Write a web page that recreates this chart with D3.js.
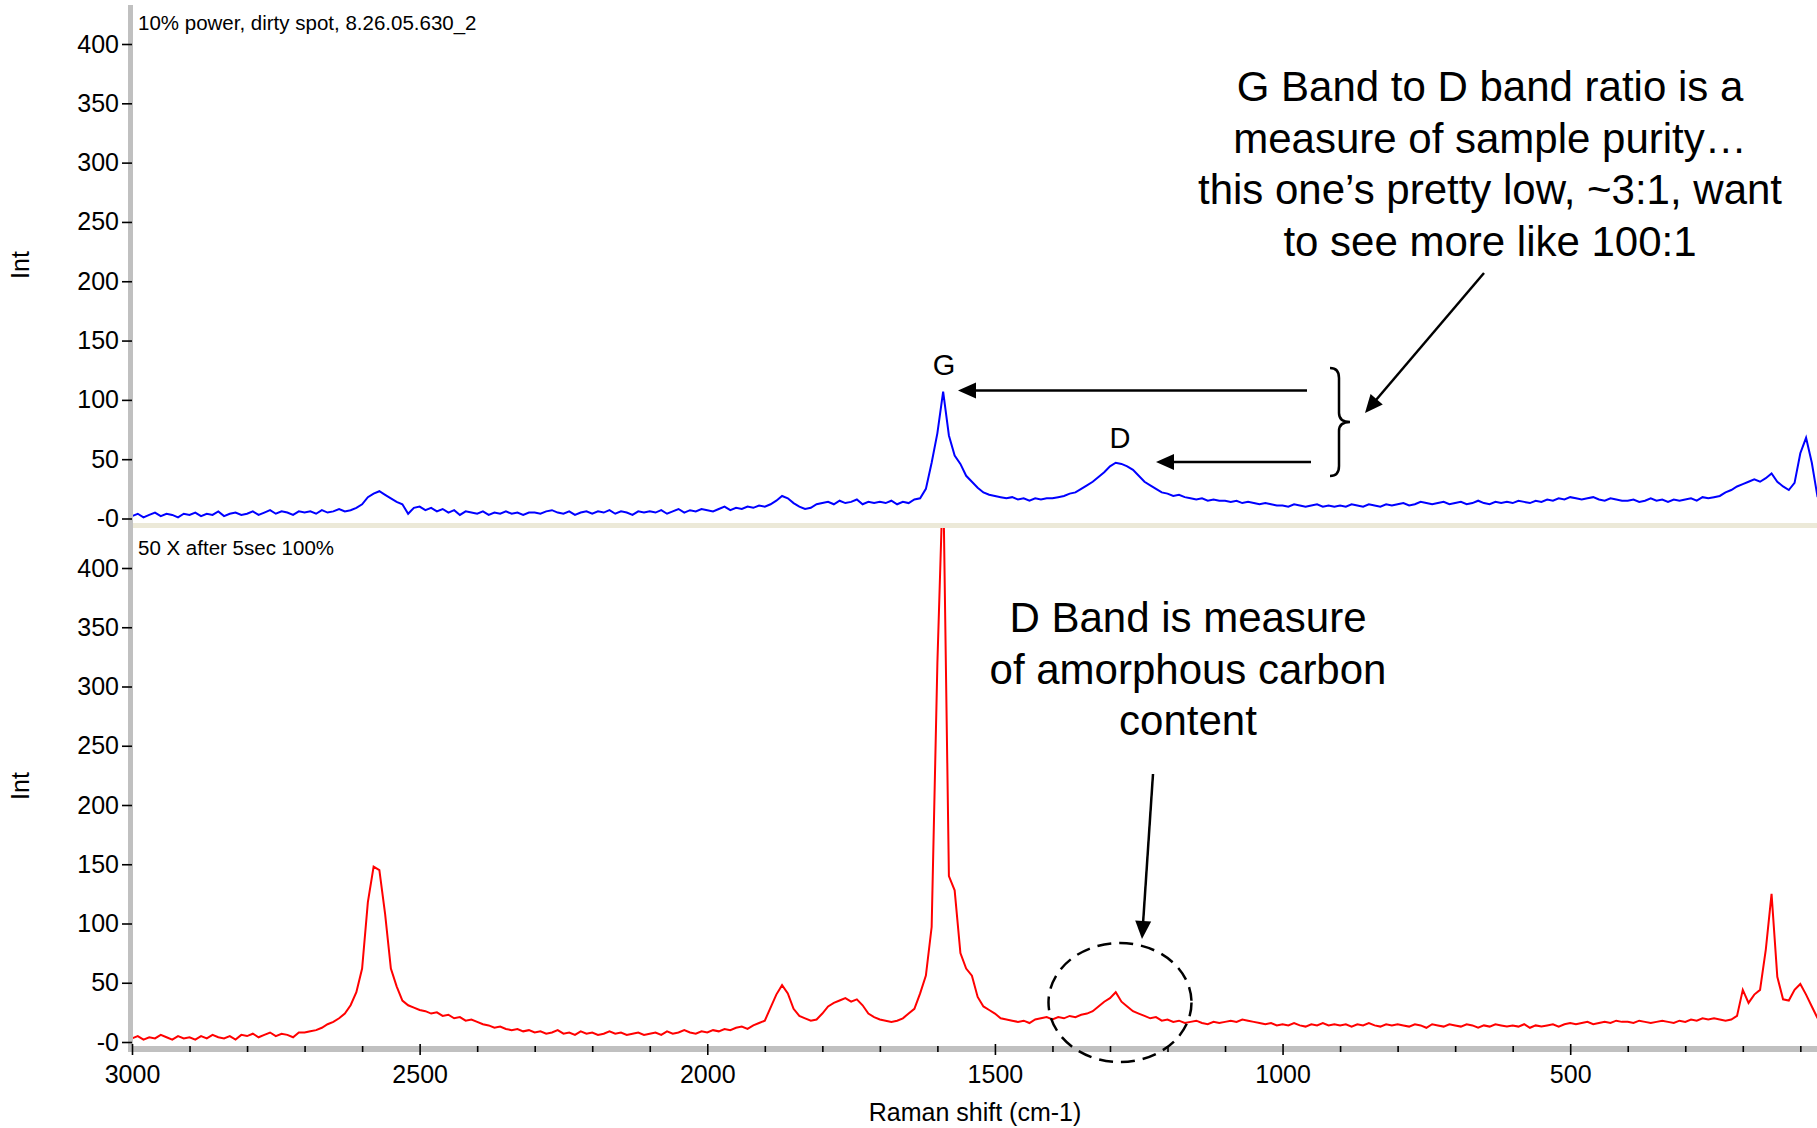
<!DOCTYPE html>
<html><head><meta charset="utf-8">
<script src="https://cdn.jsdelivr.net/npm/d3@7"></script>
<style>
body{margin:0;background:#fff}
svg{display:block}
text{font-family:"Liberation Sans",Arial,sans-serif;fill:#000}
</style>
</head><body>
<svg id="chart" width="1817" height="1128"></svg>
<script>
// Raman shift grid (cm-1), 3000 down to 70 every 10
const shift = d3.range(3000, 69, -10);

// Top spectrum: "10% power, dirty spot"
const topInt = [
  2,4,1,3,5,2,4,3,1,4,
  3,5,2,4,3,6,2,4,5,3,
  4,6,3,5,7,4,6,5,3,6,
  5,6,4,7,5,6,8,6,7,9,
  12,18,21,23,20,17,14,12,4,9,
  10,7,9,6,8,5,7,3,6,5,
  4,6,3,5,4,6,4,5,3,5,
  5,4,6,7,5,4,6,3,5,6,
  4,6,5,7,4,6,5,3,6,5,
  6,5,7,4,6,8,5,7,6,8,
  7,6,8,10,7,9,8,10,9,11,
  10,12,15,19,17,13,10,8,9,12,
  13,14,12,15,13,14,16,12,14,13,
  14,13,15,12,14,13,16,17,25,47,
  72,107,70,53,46,36,31,26,22,20,
  19,18,17,18,16,17,15,17,16,17,
  17,18,19,21,22,25,28,31,35,39,
  44,47,46,44,41,36,31,28,25,22,
  21,19,20,18,17,16,17,15,16,15,
  15,14,15,13,14,13,12,13,12,11,
  11,10,12,11,10,11,12,10,11,10,
  11,10,12,11,10,12,11,10,12,11,
  12,13,11,12,14,13,12,13,14,12,
  13,14,12,13,15,13,12,14,13,14,
  13,15,14,13,15,14,16,15,17,16,
  18,17,16,17,18,16,15,17,16,15,
  15,16,14,15,17,15,16,14,16,15,
  16,17,15,18,17,18,19,22,24,27,
  29,31,33,31,34,38,31,27,24,30,
  55,68,47,18
];

// Bottom spectrum: "50 X after 5sec 100%"
const botInt = [
  3,5,2,4,3,6,4,2,5,3,
  4,2,5,3,6,4,3,5,2,6,
  5,7,4,6,8,5,7,6,4,8,
  8,9,10,12,15,17,20,24,31,42,
  62,118,148,145,108,62,47,35,31,29,
  27,26,24,25,22,23,20,21,18,19,
  17,15,14,12,13,11,10,11,9,10,
  8,9,7,8,10,7,8,6,9,7,
  8,6,7,9,7,8,6,7,8,6,
  7,8,6,9,7,8,10,8,7,9,
  8,10,9,11,10,12,13,11,14,16,
  18,29,40,48,41,28,22,20,18,19,
  24,30,33,35,37,34,36,31,24,21,
  19,18,17,18,20,24,28,41,56,97,
  320,480,140,128,75,62,56,38,30,27,
  24,20,19,18,17,18,16,19,20,21,
  19,21,20,22,21,23,24,26,30,34,
  37,42,34,30,26,24,22,20,21,18,
  19,17,18,16,17,18,16,15,17,16,
  17,18,17,19,18,17,16,15,16,14,
  15,14,16,14,13,15,14,16,14,15,
  14,15,13,15,14,16,14,13,15,14,
  15,14,13,15,14,12,15,14,13,15,
  14,13,15,14,12,14,13,15,14,13,
  14,13,15,12,14,13,14,15,13,15,
  16,15,16,17,15,16,17,16,18,17,
  17,16,18,17,16,17,18,17,16,18,
  17,19,18,20,19,20,19,18,19,22,
  44,33,40,44,78,125,55,36,35,44,
  49,40,30,20
];

const yTicks = [0, 50, 100, 150, 200, 250, 300, 350, 400];
const yTickLabels = ["-0", "50", "100", "150", "200", "250", "300", "350", "400"];
const xMajorTicks = [3000, 2500, 2000, 1500, 1000, 500];
const xTickLabels = ["3000", "2500", "2000", "1500", "1000", "500"];
const xMinorTicks = [2900,2800,2700,2600,2400,2300,2200,2100,1900,1800,1700,1600,1400,1300,1200,1100,900,800,700,600,400,300,200,100];
const panelTitles = ["10% power, dirty spot, 8.26.05.630_2", "50 X after 5sec 100%"];
const yTitle = "Int";
const xTitle = "Raman shift (cm-1)";
const noteTop = ["G Band to D band ratio is a", "measure of sample purity\u2026", "this one\u2019s pretty low, ~3:1, want", "to see more like 100:1"];
const noteBottom = ["D Band is measure", "of amorphous carbon", "content"];
const peakLabels = ["G", "D"];

const svg = d3.select("#chart");
const FONT = "Liberation Sans, Arial, sans-serif";

const x = d3.scaleLinear().domain([3000, 71]).range([132, 1817]);
const yTop = d3.scaleLinear().domain([0, 400]).range([518.5, 44]);
const yBot = d3.scaleLinear().domain([0, 400]).range([1042, 568]);

const defs = svg.append("defs");
defs.append("clipPath").attr("id", "clipTop").append("rect")
  .attr("x", 133).attr("y", 5).attr("width", 1684).attr("height", 518);
defs.append("clipPath").attr("id", "clipBot").append("rect")
  .attr("x", 133).attr("y", 528).attr("width", 1684).attr("height", 518);

// frame bars
svg.append("rect").attr("x", 128).attr("y", 5).attr("width", 5).attr("height", 1047).attr("fill", "#c0c0c0");
svg.append("rect").attr("x", 128).attr("y", 1046).attr("width", 1689).attr("height", 6).attr("fill", "#c0c0c0");
svg.append("rect").attr("x", 133).attr("y", 523).attr("width", 1684).attr("height", 5).attr("fill", "#ece9d8");

const panels = [
  {y: yTop, vals: topInt, color: "#0000ff", clip: "clipTop", titleY: 30, labelY: 265},
  {y: yBot, vals: botInt, color: "#ff0000", clip: "clipBot", titleY: 555, labelY: 786}
];

panels.forEach((p, i) => {
  const line = d3.line().x((d, k) => x(shift[k])).y(d => p.y(d)).curve(d3.curveLinear);
  svg.append("path").datum(p.vals)
    .attr("clip-path", `url(#${p.clip})`)
    .attr("d", line).attr("fill", "none")
    .attr("stroke", p.color).attr("stroke-width", 2).attr("stroke-linejoin", "miter");

  const ax = svg.append("g").attr("transform", "translate(132,0)")
    .call(d3.axisLeft(p.y).tickValues(yTicks).tickFormat((d, k) => yTickLabels[k]).tickSize(10).tickPadding(3));
  ax.select(".domain").remove();
  ax.attr("font-size", 25).attr("font-family", FONT);
  ax.selectAll("line").attr("stroke", "#000").attr("stroke-width", 1.6);
  ax.selectAll("text").attr("fill", "#000");

  svg.append("text").attr("x", 138).attr("y", p.titleY).attr("font-size", 20.5).text(panelTitles[i]);
  svg.append("text").attr("transform", `translate(29,${p.labelY}) rotate(-90)`)
    .attr("text-anchor", "middle").attr("font-size", 25).text(yTitle);
});

// x axis
const xMinor = svg.append("g").attr("transform", "translate(0,1046)")
  .call(d3.axisBottom(x).tickValues(xMinorTicks).tickSize(6).tickFormat(""));
xMinor.select(".domain").remove();
xMinor.selectAll("line").attr("stroke", "#000").attr("stroke-width", 1.6);
const xMajor = svg.append("g").attr("transform", "translate(0,1044)")
  .call(d3.axisBottom(x).tickValues(xMajorTicks).tickFormat((d, k) => xTickLabels[k]).tickSize(11).tickPadding(10));
xMajor.select(".domain").remove();
xMajor.attr("font-size", 25).attr("font-family", FONT);
xMajor.selectAll("line").attr("stroke", "#000").attr("stroke-width", 1.6);
xMajor.selectAll("text").attr("fill", "#000");
svg.append("text").attr("x", 975).attr("y", 1121).attr("text-anchor", "middle").attr("font-size", 25).text(xTitle);

// annotations
function arrow(x1, y1, x2, y2, w) {
  const dx = x2 - x1, dy = y2 - y1, L = Math.hypot(dx, dy);
  const ux = dx / L, uy = dy / L, hl = 18, hw = 8;
  const bx = x2 - ux * hl, by = y2 - uy * hl;
  svg.append("line").attr("x1", x1).attr("y1", y1).attr("x2", bx + ux * 2).attr("y2", by + uy * 2)
    .attr("stroke", "#000").attr("stroke-width", w);
  svg.append("path").attr("d", `M${x2},${y2}L${bx - uy * hw},${by + ux * hw}L${bx + uy * hw},${by - ux * hw}Z`)
    .attr("fill", "#000");
}
svg.append("text").attr("x", 944).attr("y", 375).attr("text-anchor", "middle").attr("font-size", 29).text(peakLabels[0]);
svg.append("text").attr("x", 1120).attr("y", 448).attr("text-anchor", "middle").attr("font-size", 29).text(peakLabels[1]);
arrow(1307, 390.5, 958, 390.5, 2.5);
arrow(1311, 462, 1156, 462, 2.5);
svg.append("path")
  .attr("d", "M1330,368 Q1339,368 1339,378 L1339,413 Q1339,422 1350,422 Q1339,422 1339,431 L1339,466 Q1339,476 1330,476")
  .attr("fill", "none").attr("stroke", "#000").attr("stroke-width", 2.5);
arrow(1484, 273, 1365, 413, 2.5);
arrow(1153, 774, 1142, 939, 2.5);
svg.append("ellipse").attr("cx", 1120).attr("cy", 1002.5).attr("rx", 71.5).attr("ry", 59.5)
  .attr("fill", "none").attr("stroke", "#000").attr("stroke-width", 2.5).attr("stroke-dasharray", "14,8");

const tTop = svg.append("text").attr("text-anchor", "middle").attr("font-size", 42);
noteTop.forEach((s, k) => tTop.append("tspan").attr("x", 1490).attr("y", 101 + k * 51.5).text(s));
const tBot = svg.append("text").attr("text-anchor", "middle").attr("font-size", 42);
noteBottom.forEach((s, k) => tBot.append("tspan").attr("x", 1188).attr("y", 632 + k * 51.5).text(s));
</script>
</body></html>
